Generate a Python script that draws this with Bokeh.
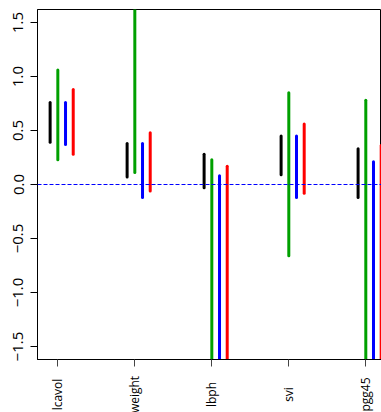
import math
from bokeh.plotting import figure
from bokeh.layouts import column
from bokeh.models import Range1d, FixedTicker, Span, ColumnDataSource
from bokeh.core.properties import value
from bokeh.embed import file_html
from bokeh.resources import INLINE

# Data
variables = ["lcavol", "weight", "lbph", "svi", "pgg45"]
offsets = [-0.1, 0.0, 0.1, 0.2]
series_colors = ["black", "#00A000", "#0000FF", "#FF0000"]
# interval lower / upper per series (rows = series, cols = variables)
lower = [
    [0.39, 0.07, -0.03, 0.09, -0.12],
    [0.23, 0.11, -2.00, -0.66, -2.00],
    [0.37, -0.12, -2.00, -0.12, -2.00],
    [0.28, -0.06, -2.00, -0.08, -2.00],
]
upper = [
    [0.76, 0.38, 0.28, 0.45, 0.33],
    [1.06, 1.80, 0.23, 0.85, 0.78],
    [0.76, 0.38, 0.08, 0.45, 0.21],
    [0.88, 0.48, 0.17, 0.56, 0.36],
]
y_ticks = [-1.5, -1.0, -0.5, 0.0, 0.5, 1.0, 1.5]

FONT = "Open Sans"
W = 381
x_range = Range1d(0.736, 5.204)

p = figure(width=W, height=367, output_backend="svg", toolbar_location=None,
           x_range=x_range, y_range=Range1d(-1.62, 1.62),
           min_border_left=37, min_border_right=0, min_border_top=9, min_border_bottom=8)
p.background_fill_color = "white"
p.border_fill_color = "white"
p.outline_line_color = "black"
p.outline_line_width = 1
p.grid.visible = False

# zero line
p.add_layout(Span(location=0, dimension="width", line_color="#0000FF",
                  line_dash="4 2", line_width=1))

for s in range(4):
    xs = [i + 1 + offsets[s] for i in range(len(variables))]
    src = ColumnDataSource(dict(x=xs, y0=lower[s], y1=upper[s]))
    p.segment(x0="x", y0="y0", x1="x", y1="y1", source=src,
              line_color=series_colors[s], line_width=3, line_cap="round")

# y axis
ya = p.yaxis[0]
ya.ticker = FixedTicker(ticks=y_ticks)
ya.major_label_overrides = {t: (f"{t:.1f}".replace("-", "\u2212")) for t in y_ticks}
ya.major_label_orientation = "vertical"
ya.major_tick_out = 7
ya.major_tick_in = 0
ya.minor_tick_out = 0
ya.minor_tick_in = 0
ya.major_label_standoff = 7
ya.major_label_text_font = FONT
ya.major_label_text_font_size = "15px"
ya.major_label_text_color = "black"
ya.axis_line_color = "black"
ya.major_tick_line_color = "black"

# x axis (ticks only; names drawn in the strip below)
xa = p.xaxis[0]
xa.ticker = FixedTicker(ticks=[1, 2, 3, 4, 5])
xa.major_label_overrides = {i: "" for i in [1, 2, 3, 4, 5]}
xa.major_tick_out = 7
xa.major_tick_in = 0
xa.minor_tick_out = 0
xa.minor_tick_in = 0
xa.major_label_standoff = 0
xa.major_label_text_font_size = "1px"
xa.axis_line_color = "black"
xa.major_tick_line_color = "#444444"

# label strip
q = figure(width=W, height=45, output_backend="svg", toolbar_location=None,
           x_range=x_range, y_range=Range1d(0, 1),
           x_axis_type=None, y_axis_type=None,
           min_border_left=37, min_border_right=0, min_border_top=0, min_border_bottom=0)
q.outline_line_color = None
q.grid.visible = False
q.background_fill_color = "white"
q.border_fill_color = "white"
lab_src = ColumnDataSource(dict(x=[i + 1 for i in range(len(variables))],
                                y=[0.4] * len(variables), t=variables))
q.text(x="x", y="y", text="t", source=lab_src, angle=math.pi / 2,
       text_align="center", text_baseline="middle",
       text_font=value(FONT), text_font_size="12px", text_color="black")

layout = column(p, q, spacing=0)
open("out.html", "w").write(file_html(layout, INLINE))
